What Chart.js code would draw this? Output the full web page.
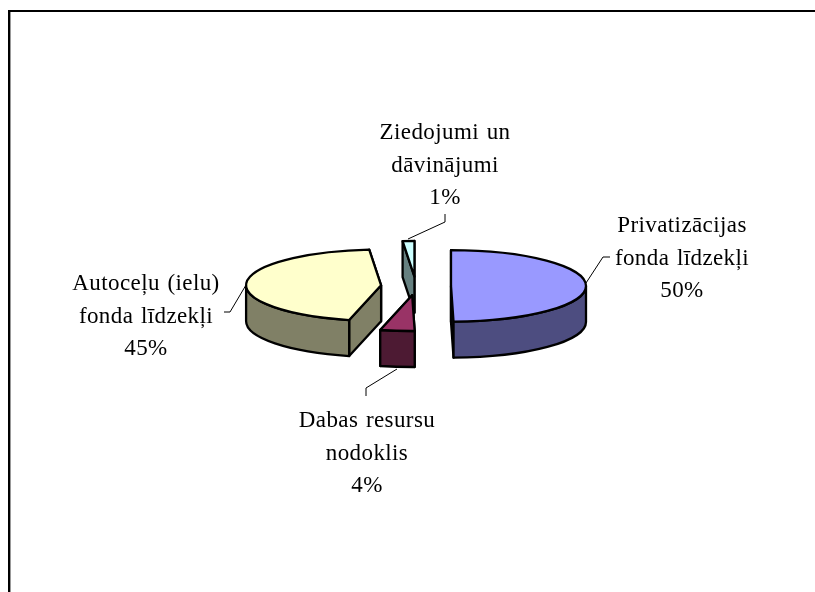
<!DOCTYPE html>
<html>
<head>
<meta charset="utf-8">
<style>html,body{margin:0;padding:0;background:#fff}canvas{display:block}</style>
<script src="https://cdn.jsdelivr.net/npm/chart.js@4"></script>
</head>
<body>
<div style="width:815px;height:592px;position:relative"><canvas id="c" width="815" height="592"></canvas></div>
<script>
const categories = ["Privatizācijas fonda līdzekļi", "Dabas resursu nodoklis", "Autoceļu (ielu) fonda līdzekļi", "Ziedojumi un dāvinājumi"];
const labelLines = [["Privatizācijas", "fonda līdzekļi"], ["Dabas resursu", "nodoklis"], ["Autoceļu (ielu)", "fonda līdzekļi"], ["Ziedojumi un", "dāvinājumi"]];
const values = [49.7, 4.1, 44.8, 1.4];
const topColors = ["#9999FF", "#993366", "#FFFFCC", "#CCFFFF"];
const sideColors = ["#4D4D80", "#4D1A33", "#808066", "#668080"];
const labelCentres = [[682, 232], [367, 427], [146, 290], [445, 139]];
const leaders = [
  [[610, 257], [603, 257], [586, 283]],
  [[366, 396], [366, 388], [397, 369]],
  [[224, 312], [230, 312], [246, 285]],
  [[445, 214], [445, 222], [408, 239]]
];
const explode = 35, tilt = 0.265, depth = 36;
const paintOrder = [3, 2, 0, 1];

const pie3d = {
  id: 'pie3d',
  beforeDraw(chart) {
    const ctx = chart.ctx;
    ctx.save();
    ctx.fillStyle = '#000';
    ctx.fillRect(8, 10, 807, 2);
    ctx.fillRect(8, 10, 2, 582);
    ctx.fillStyle = '#999';
    ctx.fillRect(10, 12, 1, 580);
    ctx.restore();
  },
  beforeDatasetDraw(chart) {
    const ctx = chart.ctx, arcs = chart.getDatasetMeta(0).data;
    ctx.save();
    ctx.lineJoin = 'round';
    ctx.lineWidth = 2.3;
    ctx.strokeStyle = '#000';
    paintOrder.forEach(i => {
      const a = arcs[i], s = a.startAngle, e = a.endAngle, r = a.outerRadius, m = (s + e) / 2;
      const ox = a.x + explode * Math.cos(m), oy = a.y + explode * Math.sin(m) * tilt;
      const pt = t => [ox + r * Math.cos(t), oy + r * Math.sin(t) * tilt];
      const poly = (pts, fill) => {
        ctx.beginPath();
        pts.forEach((p, k) => k ? ctx.lineTo(p[0], p[1]) : ctx.moveTo(p[0], p[1]));
        ctx.closePath();
        ctx.fillStyle = fill; ctx.fill(); ctx.stroke();
      };
      const wall = t => { const p = pt(t); poly([[ox, oy], p, [p[0], p[1] + depth], [ox, oy + depth]], sideColors[i]); };
      // radial walls, the one further back first
      (Math.sin(s) < Math.sin(e) ? [s, e] : [e, s]).forEach(wall);
      // outer wall: only the part of the rim that faces the viewer
      const lo = Math.max(s, 0), hi = Math.min(e, Math.PI);
      if (hi > lo) {
        ctx.beginPath();
        ctx.ellipse(ox, oy, r, r * tilt, 0, lo, hi);
        ctx.ellipse(ox, oy + depth, r, r * tilt, 0, hi, lo, true);
        ctx.closePath();
        ctx.fillStyle = sideColors[i]; ctx.fill(); ctx.stroke();
      }
      // top face
      ctx.beginPath();
      ctx.moveTo(ox, oy);
      ctx.ellipse(ox, oy, r, r * tilt, 0, s, e);
      ctx.closePath();
      ctx.fillStyle = topColors[i]; ctx.fill(); ctx.stroke();
    });
    ctx.restore();
    return false;
  },
  afterDatasetsDraw(chart) {
    const ctx = chart.ctx;
    ctx.save();
    ctx.strokeStyle = '#000';
    ctx.lineWidth = 1;
    leaders.forEach(l => {
      ctx.beginPath();
      l.forEach((p, k) => k ? ctx.lineTo(p[0], p[1]) : ctx.moveTo(p[0], p[1]));
      ctx.stroke();
    });
    ctx.fillStyle = '#000';
    ctx.font = '23px "Liberation Serif"';
    ctx.letterSpacing = '0.4px';
    ctx.wordSpacing = '1.5px';
    ctx.textAlign = 'center';
    ctx.textBaseline = 'alphabetic';
    const total = values.reduce((p, v) => p + v, 0);
    labelLines.forEach((lines, i) => {
      const all = lines.concat(Math.round(values[i] / total * 100) + '%');
      all.forEach((t, k) => ctx.fillText(t, labelCentres[i][0], labelCentres[i][1] + k * 32.5));
    });
    ctx.restore();
  }
};

new Chart(document.getElementById('c'), {
  type: 'pie',
  data: { labels: categories, datasets: [{ data: values, backgroundColor: topColors, radius: 135, borderWidth: 0 }] },
  options: {
    responsive: false,
    animation: false,
    layout: { padding: { left: 17, bottom: 20 } },
    plugins: { legend: { display: false }, tooltip: { enabled: false } }
  },
  plugins: [pie3d]
});
</script>
</body>
</html>
